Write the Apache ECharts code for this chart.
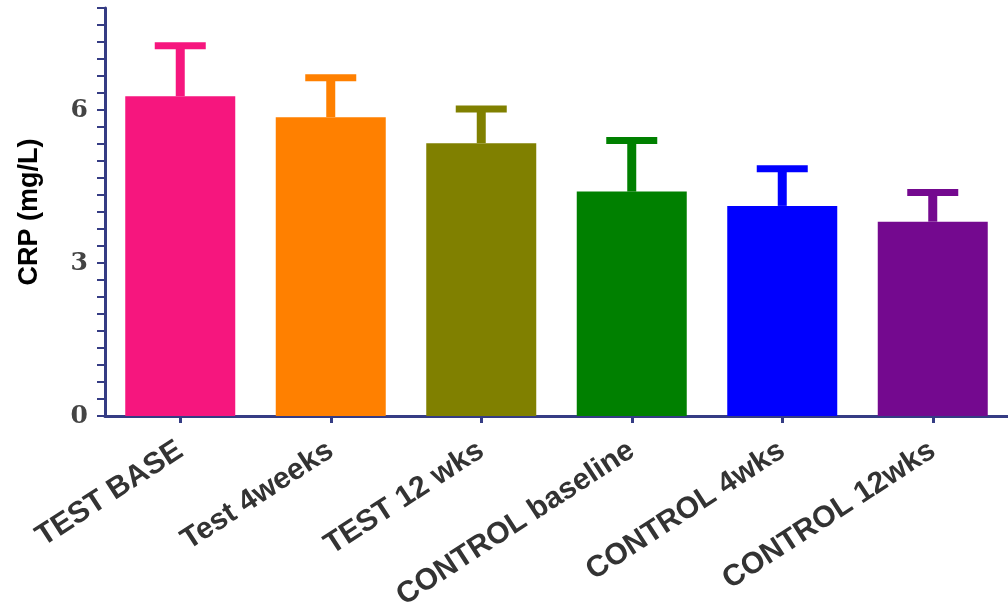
<!DOCTYPE html>
<html>
<head>
<meta charset="utf-8">
<script src="https://cdn.jsdelivr.net/npm/echarts@6/dist/echarts.min.js"></script>
<style>
html,body{margin:0;padding:0;background:#fff;}
#chart{width:1008px;height:614px;}
</style>
</head>
<body>
<div id="chart"></div>
<script>
const categories = ['TEST BASE', 'Test 4weeks', 'TEST 12 wks', 'CONTROL baseline', 'CONTROL 4wks', 'CONTROL 12wks'];
const means = [6.27, 5.86, 5.35, 4.40, 4.12, 3.81];
const errorTops = [7.26, 6.63, 6.02, 5.40, 4.85, 4.38];
const barColors = ['#F6167E', '#FF8000', '#808000', '#008000', '#0000FF', '#74098F'];
const yTickLabels = [0, 3, 6];

const chart = echarts.init(document.getElementById('chart'));
const axisColor = '#353C84';

chart.setOption({
  animation: false,
  grid: { left: 105, top: 8, bottom: 198, width: 905, containLabel: false },
  xAxis: {
    type: 'category',
    data: categories,
    axisLine: { lineStyle: { color: axisColor, width: 3 } },
    axisTick: { show: true, alignWithLabel: true, length: 7, lineStyle: { color: axisColor, width: 3 } },
    axisLabel: {
      rotate: 33,
      margin: 32,
      color: '#333333',
      fontFamily: 'Liberation Sans',
      fontWeight: 'bold',
      fontSize: 30,
      interval: 0
    }
  },
  yAxis: {
    type: 'value',
    min: 0,
    max: 8,
    interval: 1,
    name: 'CRP (mg/L)',
    nameLocation: 'middle',
    nameGap: 62,
    nameRotate: 90,
    nameTextStyle: { color: '#000', fontFamily: 'Liberation Sans', fontWeight: 'bold', fontSize: 27 },
    splitLine: { show: false },
    axisLine: { show: true, lineStyle: { color: axisColor, width: 3 } },
    axisTick: { show: true, length: 8, lineStyle: { color: axisColor, width: 2 } },
    minorTick: { show: true, splitNumber: 3, length: 8, lineStyle: { color: axisColor, width: 2 } },
    axisLabel: {
      margin: 17,
      color: '#444444',
      fontFamily: 'DejaVu Serif',
      fontWeight: 'bold',
      fontSize: 25,
      formatter: function (v) { return yTickLabels.indexOf(v) >= 0 ? String(v) : ''; }
    }
  },
  series: [
    {
      type: 'bar',
      barWidth: 110,
      data: means.map((v, i) => ({ value: v, itemStyle: { color: barColors[i] } })),
      z: 2
    },
    {
      type: 'custom',
      z: 1,
      data: means.map((m, i) => [i, m, errorTops[i]]),
      renderItem: function (params, api) {
        const i = api.value(0);
        const base = api.coord([i, api.value(1)]);
        const top = api.coord([i, api.value(2)]);
        const color = barColors[params.dataIndex];
        const stemW = 9, capW = 51, capH = 7;
        return {
          type: 'group',
          children: [
            { type: 'rect', shape: { x: base[0] - stemW / 2, y: top[1], width: stemW, height: base[1] - top[1] }, style: { fill: color } },
            { type: 'rect', shape: { x: top[0] - capW / 2, y: top[1] - capH / 2, width: capW, height: capH }, style: { fill: color } }
          ]
        };
      }
    }
  ]
});
</script>
</body>
</html>
